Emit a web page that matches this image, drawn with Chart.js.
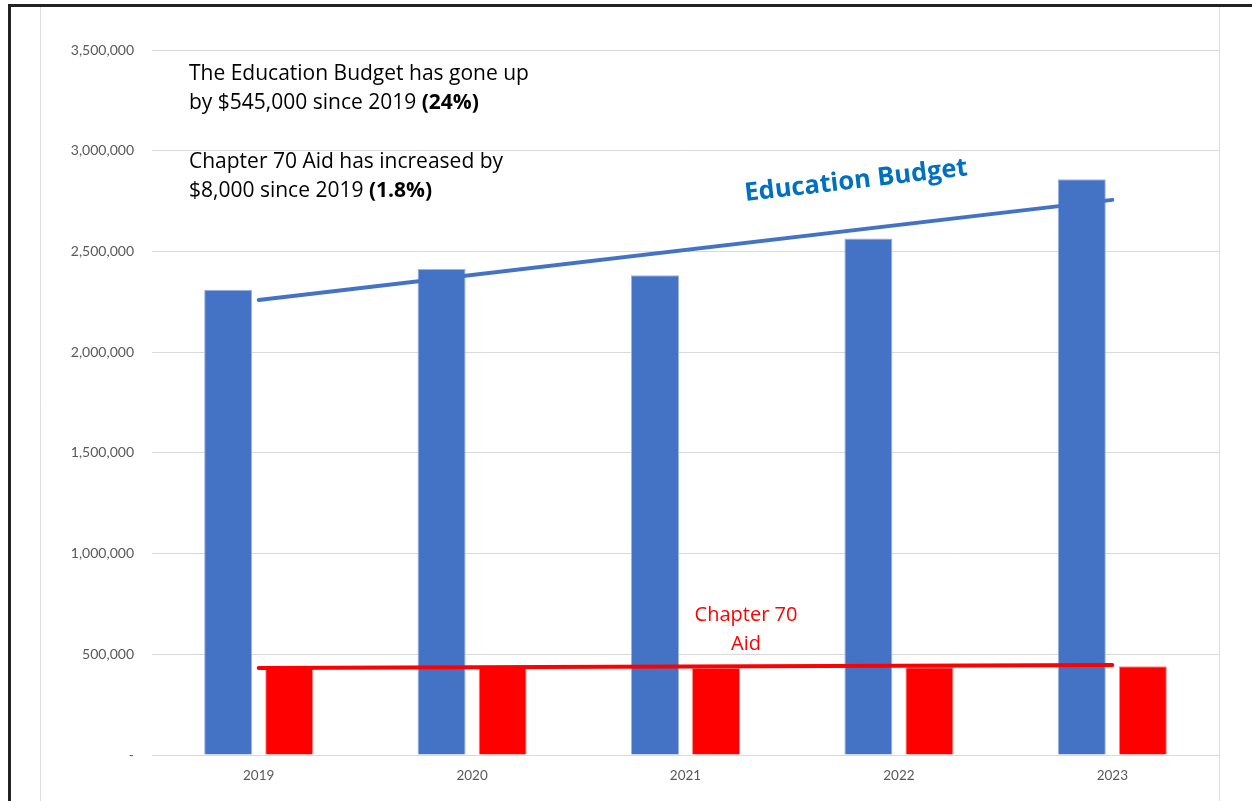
<!DOCTYPE html>
<html>
<head>
<meta charset="utf-8">
<title>Education Budget vs Chapter 70 Aid</title>
<script src="https://cdn.jsdelivr.net/npm/chart.js@4/dist/chart.umd.min.js"></script>
<style>
    html, body { margin: 0; padding: 0; background: #ffffff; }
    #budgetChart { display: block; }
</style>
</head>
<body>
<canvas id="budgetChart" width="1252" height="801"></canvas>
<script>
// values
var years = ['2019', '2020', '2021', '2022', '2023'];
var educationBudget = [2310000, 2413000, 2382000, 2564000, 2858000];
var chapter70Aid = [434000, 434000, 432000, 436000, 440000];

// trend lines only have end points (2019 and 2023)
var educationTrend = [2259000, null, null, null, 2756000];
var aidTrend = [432000, null, null, null, 447000];

var yTicks = [0, 500000, 1000000, 1500000, 2000000, 2500000, 3000000, 3500000];

var tickFont = 'Lato, "Open Sans", sans-serif';
var noteFont = '"Open Sans", Lato, sans-serif';

function drawRuns(ctx, runs, x, y, size) {
    var cx = x;
    for (var i = 0; i < runs.length; i++) {
        ctx.font = (runs[i][1] ? 'bold ' : '') + size + 'px ' + noteFont;
        ctx.fillText(runs[i][0], cx, y);
        cx += ctx.measureText(runs[i][0]).width;
    }
}

// page frame: black top/left border and the light gray column lines
var framePlugin = {
    id: 'frame',
    beforeDraw: function (chart) {
        var ctx = chart.ctx;
        ctx.save();
        ctx.fillStyle = '#ffffff';
        ctx.fillRect(0, 0, chart.width, chart.height);
        ctx.strokeStyle = '#dcdcdc';
        ctx.lineWidth = 1;
        ctx.beginPath();
        ctx.moveTo(40.5, 6);
        ctx.lineTo(40.5, chart.height);
        ctx.moveTo(chart.chartArea.right + 0.5, 6);
        ctx.lineTo(chart.chartArea.right + 0.5, chart.height);
        ctx.stroke();
        ctx.fillStyle = '#222222';
        ctx.fillRect(8, 4, chart.width - 8, 3);
        ctx.fillRect(8, 4, 3, chart.height - 4);
        ctx.restore();
    }
};

// the text boxes placed on the chart
var notesPlugin = {
    id: 'notes',
    afterDraw: function (chart) {
        var ctx = chart.ctx;
        ctx.save();
        ctx.fillStyle = '#000000';
        ctx.textBaseline = 'middle';
        ctx.textAlign = 'left';
        drawRuns(ctx, [['The Education Budget has gone up', false]], 189, 74, 21);
        drawRuns(ctx, [['by $545,000 since 2019 ', false], ['(24%)', true]], 189, 103, 21);
        drawRuns(ctx, [['Chapter 70 Aid has increased by', false]], 189, 162, 21);
        drawRuns(ctx, [['$8,000 since 2019 ', false], ['(1.8%)', true]], 189, 191, 21);

        ctx.fillStyle = '#ff0000';
        ctx.textAlign = 'center';
        ctx.font = '20px ' + noteFont;
        ctx.fillText('Chapter 70', 746, 615);
        ctx.fillText('Aid', 746, 644);

        ctx.translate(856, 181);
        ctx.rotate(-6.6 * Math.PI / 180);
        ctx.fillStyle = '#0070c0';
        ctx.font = 'bold 25.5px ' + noteFont;
        ctx.fillText('Education Budget', 0, 0);
        ctx.restore();
    }
};

var ctx = document.getElementById('budgetChart').getContext('2d');

var budgetChart = new Chart(ctx, {
    type: 'bar',
    data: {
        labels: years,
        datasets: [
            {
                type: 'line',
                label: 'Education Budget trend',
                data: educationTrend,
                spanGaps: true,
                borderColor: '#4472c4',
                borderWidth: 4,
                borderCapStyle: 'round',
                pointRadius: 0,
                order: 0
            },
            {
                type: 'line',
                label: 'Chapter 70 Aid trend',
                data: aidTrend,
                spanGaps: true,
                borderColor: '#ff0000',
                borderWidth: 4,
                borderCapStyle: 'round',
                pointRadius: 0,
                order: 0
            },
            {
                label: 'Education Budget',
                data: educationBudget,
                backgroundColor: '#4472c4',
                borderColor: '#9db3df',
                borderWidth: 1,
                categoryPercentage: 0.572,
                barPercentage: 0.787,
                order: 1
            },
            {
                label: 'Chapter 70 Aid',
                data: chapter70Aid,
                backgroundColor: '#ff0000',
                borderColor: '#ff8c8c',
                borderWidth: 1,
                categoryPercentage: 0.572,
                barPercentage: 0.787,
                order: 1
            }
        ]
    },
    options: {
        responsive: false,
        animation: false,
        devicePixelRatio: 1,
        layout: {
            padding: { left: 0, right: 33, top: 50, bottom: 0 }
        },
        plugins: {
            legend: { display: false },
            tooltip: { enabled: false }
        },
        scales: {
            x: {
                grid: { display: false, drawTicks: false },
                border: { display: true, color: '#d9d9d9', width: 1 },
                ticks: {
                    color: '#595959',
                    font: { family: tickFont, size: 13.5 },
                    padding: 13
                },
                afterFit: function (scale) { scale.height = 46; }
            },
            y: {
                min: 0,
                max: 3500000,
                afterBuildTicks: function (scale) {
                    scale.ticks = yTicks.map(function (v) { return { value: v }; });
                },
                grid: { color: '#d9d9d9', lineWidth: 1, drawTicks: false },
                border: { display: false },
                ticks: {
                    color: '#595959',
                    font: { family: tickFont, size: 14 },
                    padding: 18,
                    callback: function (value) {
                        if (value === 0) return '-';
                        return value.toLocaleString('en-US');
                    }
                },
                afterFit: function (scale) { scale.width = 152; }
            }
        }
    },
    plugins: [framePlugin, notesPlugin]
});
</script>
</body>
</html>
